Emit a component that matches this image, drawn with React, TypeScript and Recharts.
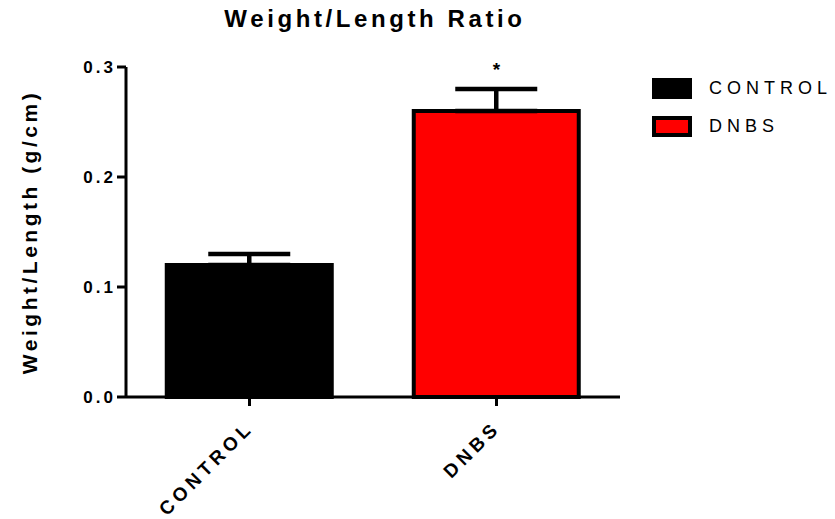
import { BarChart, Bar, Cell, XAxis, YAxis, ErrorBar, ReferenceDot } from "recharts";

const groups = ["CONTROL", "DNBS"];
const means = [0.12, 0.26];
const sems = [0.01, 0.02];
const fills = ["#000000", "#ff0000"];
const marks = ["", "*"];
const yTicks = [0, 0.1, 0.2, 0.3];

// error bars only go up, so the lower offset is zero
const rows = groups.map((name, i) => ({ name, value: means[i], err: [0, sems[i]] }));

const FONT = "'Liberation Sans', Arial, sans-serif";

function CategoryTick({ x, y, payload }: any) {
  return (
    <g transform={`translate(${x + 5},${y + 21})`}>
      <text
        x={0}
        y={0}
        textAnchor="end"
        transform="rotate(-45)"
        fontFamily={FONT}
        fontWeight="bold"
        fontSize={19}
        letterSpacing={4.3}
        fill="#000"
      >
        {payload.value}
      </text>
    </g>
  );
}

function ValueTick({ x, y, payload }: any) {
  return (
    <text
      x={x}
      y={y}
      dy={6}
      textAnchor="end"
      fontFamily={FONT}
      fontWeight="bold"
      fontSize={17}
      letterSpacing={3}
      fill="#000"
    >
      {Number(payload.value).toFixed(1)}
    </text>
  );
}

export default function App() {
  return (
    <div style={{ position: "absolute", left: 0, top: 0, width: 835, height: 519, background: "#fff", fontFamily: FONT }}>
      <div
        style={{
          position: "absolute",
          left: 0,
          top: 5,
          width: 750,
          textAlign: "center",
          fontSize: 24,
          fontWeight: "bold",
          letterSpacing: 3.6,
          whiteSpace: "nowrap",
        }}
      >
        Weight/Length Ratio
      </div>

      <BarChart
        width={835}
        height={519}
        data={rows}
        margin={{ top: 67, right: 215, left: 0, bottom: 0 }}
        barCategoryGap="16.5%"
      >
        <XAxis
          dataKey="name"
          height={122}
          axisLine={{ stroke: "#000", strokeWidth: 3 }}
          tickLine={{ stroke: "#000", strokeWidth: 3 }}
          tickSize={9}
          tick={<CategoryTick />}
          interval={0}
        />
        <YAxis
          width={126}
          domain={[0, 0.3]}
          ticks={yTicks}
          axisLine={{ stroke: "#000", strokeWidth: 3 }}
          tickLine={{ stroke: "#000", strokeWidth: 3 }}
          tickSize={9}
          tickMargin={1}
          tick={<ValueTick />}
          label={{
            value: "Weight/Length (g/cm)",
            angle: -90,
            position: "insideLeft",
            offset: 30,
            fill: "#000",
            style: { textAnchor: "middle", fontSize: 21, fontWeight: "bold", fontFamily: FONT, letterSpacing: 3.5 },
          }}
        />
        <Bar dataKey="value" stroke="#000" strokeWidth={4} isAnimationActive={false}>
          {rows.map((r, i) => (
            <Cell key={r.name} fill={fills[i]} />
          ))}
          <ErrorBar dataKey="err" direction="y" width={41} stroke="#000" strokeWidth={4.5} isAnimationActive={false} />
        </Bar>
        {groups.map((g, i) =>
          marks[i] ? (
            <ReferenceDot
              key={g}
              x={g}
              y={means[i] + sems[i]}
              r={0}
              stroke="none"
              fill="none"
              label={{ value: marks[i], position: "top", offset: 13, fill: "#000", fontSize: 19, fontWeight: "bold", fontFamily: FONT }}
            />
          ) : null
        )}
      </BarChart>

      <div style={{ position: "absolute", left: 652, top: 78, fontSize: 18, letterSpacing: 5 }}>
        {groups.map((g, i) => (
          <div key={g} style={{ display: "flex", alignItems: "center", height: 21, marginBottom: 17 }}>
            <div
              style={{
                width: 40,
                height: 21,
                boxSizing: "border-box",
                background: fills[i],
                border: "4px solid #000",
                marginRight: 17,
              }}
            />
            <span>{g}</span>
          </div>
        ))}
      </div>
    </div>
  );
}
